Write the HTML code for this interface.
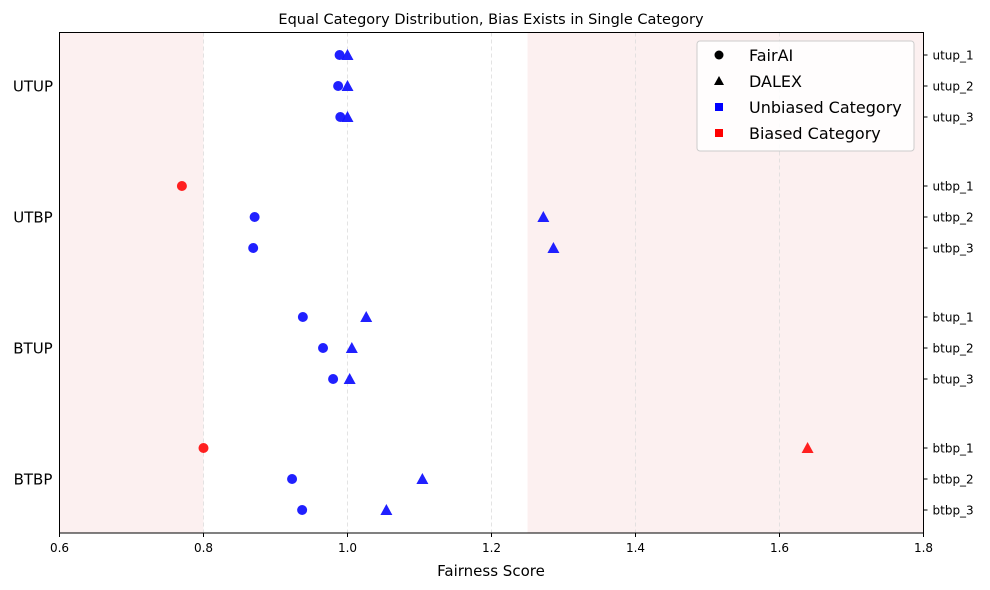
<!DOCTYPE html>
<html><head><meta charset="utf-8">
<style>
body{margin:0;background:#fff;}
svg{display:block;font-family:"DejaVu Sans","Liberation Sans",sans-serif;}
</style></head>
<body>
<svg id="chart" width="990" height="590" viewBox="0 0 990 590"></svg>
<script>
const rowLabels = ["utup_1","utup_2","utup_3","utbp_1","utbp_2","utbp_3","btup_1","btup_2","btup_3","btbp_1","btbp_2","btbp_3"];
const groupLabels = ["UTUP","UTBP","BTUP","BTBP"];
const fairaiValues = [0.989,0.987,0.990,0.770,0.871,0.869,0.938,0.966,0.980,0.800,0.923,0.937];
const dalexValues = [1.000,1.000,1.000,null,1.272,1.286,1.026,1.006,1.003,1.639,1.104,1.054];
const fairaiBiased = [false,false,false,true,false,false,false,false,false,true,false,false];
const dalexBiased = [false,false,false,false,false,false,false,false,false,true,false,false];
const xTicks = [0.6,0.8,1.0,1.2,1.4,1.6,1.8];
const shadeRanges = [[0.6,0.8],[1.25,1.8]];

const NS="http://www.w3.org/2000/svg";
const svg=document.getElementById('chart');
const L=59.5,R=923.5,T=32.5,B=533;
const xMin=0.6,xMax=1.8;
function xs(v){return L+(v-xMin)/(xMax-xMin)*(R-L);}
function ys(i){const g=Math.floor(i/3),k=i%3;return 55+g*131+k*31;}
function mk(tag,attrs,parent){const e=document.createElementNS(NS,tag);for(const k in attrs)e.setAttribute(k,attrs[k]);(parent||svg).appendChild(e);return e;}

shadeRanges.forEach((r,i)=>{
  const e=mk('rect',{x:xs(r[0]),y:T,width:xs(r[1])-xs(r[0]),height:B-T,fill:'#fcf0f0'});
  
  
});
xTicks.forEach(t=>{
  const g=mk('line',{x1:xs(t),x2:xs(t),y1:T,y2:B,stroke:'#dcdcdc','stroke-dasharray':'4,3','stroke-width':0.8});
  
  
  const tk=mk('line',{x1:xs(t),x2:xs(t),y1:B,y2:B+4,stroke:'#000'});
  
  
  const tx=mk('text',{x:xs(t),y:B+19,'text-anchor':'middle','font-size':12});
  tx.textContent=t.toFixed(1);
  
  
});
const frame=mk('rect',{x:L,y:T,width:R-L,height:B-T,fill:'none',stroke:'#000','stroke-width':1});



rowLabels.forEach((lab,i)=>{
  const y=ys(i);
  const tk=mk('line',{x1:R,x2:R+4,y1:y,y2:y,stroke:'#000'});
  
  
  const t=mk('text',{x:R+9,y:y+4.5,'font-size':12});
  t.textContent=lab;
  
  
});
groupLabels.forEach((g,i)=>{
  const y=ys(i*3+1);
  const t=mk('text',{x:33,y:y+5.5,'font-size':15,'text-anchor':'middle'});
  t.textContent=g;
  
  
});

fairaiValues.forEach((v,i)=>{
  if(v==null)return;
  const c=mk('circle',{cx:xs(v),cy:ys(i),r:5,fill:fairaiBiased[i]?'#ff1414':'#1414ff','fill-opacity':0.95});
  
  
});
dalexValues.forEach((v,i)=>{
  if(v==null||v>xMax)return;
  const x=xs(v),y=ys(i);
  const p=mk('polygon',{points:`${x},${y-6} ${x-6},${y+5} ${x+6},${y+5}`,fill:dalexBiased[i]?'#ff1414':'#1414ff','fill-opacity':0.95});
  
  
});

const title=mk('text',{x:491,y:24,'text-anchor':'middle','font-size':14.5});
title.textContent='Equal Category Distribution, Bias Exists in Single Category';


const xl=mk('text',{x:491,y:576,'text-anchor':'middle','font-size':15});
xl.textContent='Fairness Score';



const lg=mk('g',{});


mk('rect',{x:697,y:41,width:217,height:110,rx:3,fill:'#fff','fill-opacity':0.85,stroke:'#ccc'},lg);
const items=[['circle','#000','FairAI'],['tri','#000','DALEX'],['sq','#0000ff','Unbiased Category'],['sq','#ff0000','Biased Category']];
items.forEach((it,k)=>{
  const y=55+k*26;
  const ent=mk('g',{},lg);
  
  
  if(it[0]==='circle')mk('circle',{cx:719,cy:y,r:4.5,fill:it[1]},ent);
  else if(it[0]==='tri')mk('polygon',{points:`719,${y-5} 714,${y+4} 724,${y+4}`,fill:it[1]},ent);
  else mk('rect',{x:715,y:y-4,width:8,height:8,fill:it[1]},ent);
  const t=mk('text',{x:749,y:y+6,'font-size':16},ent);
  t.textContent=it[2];
});
</script>
</body></html>
